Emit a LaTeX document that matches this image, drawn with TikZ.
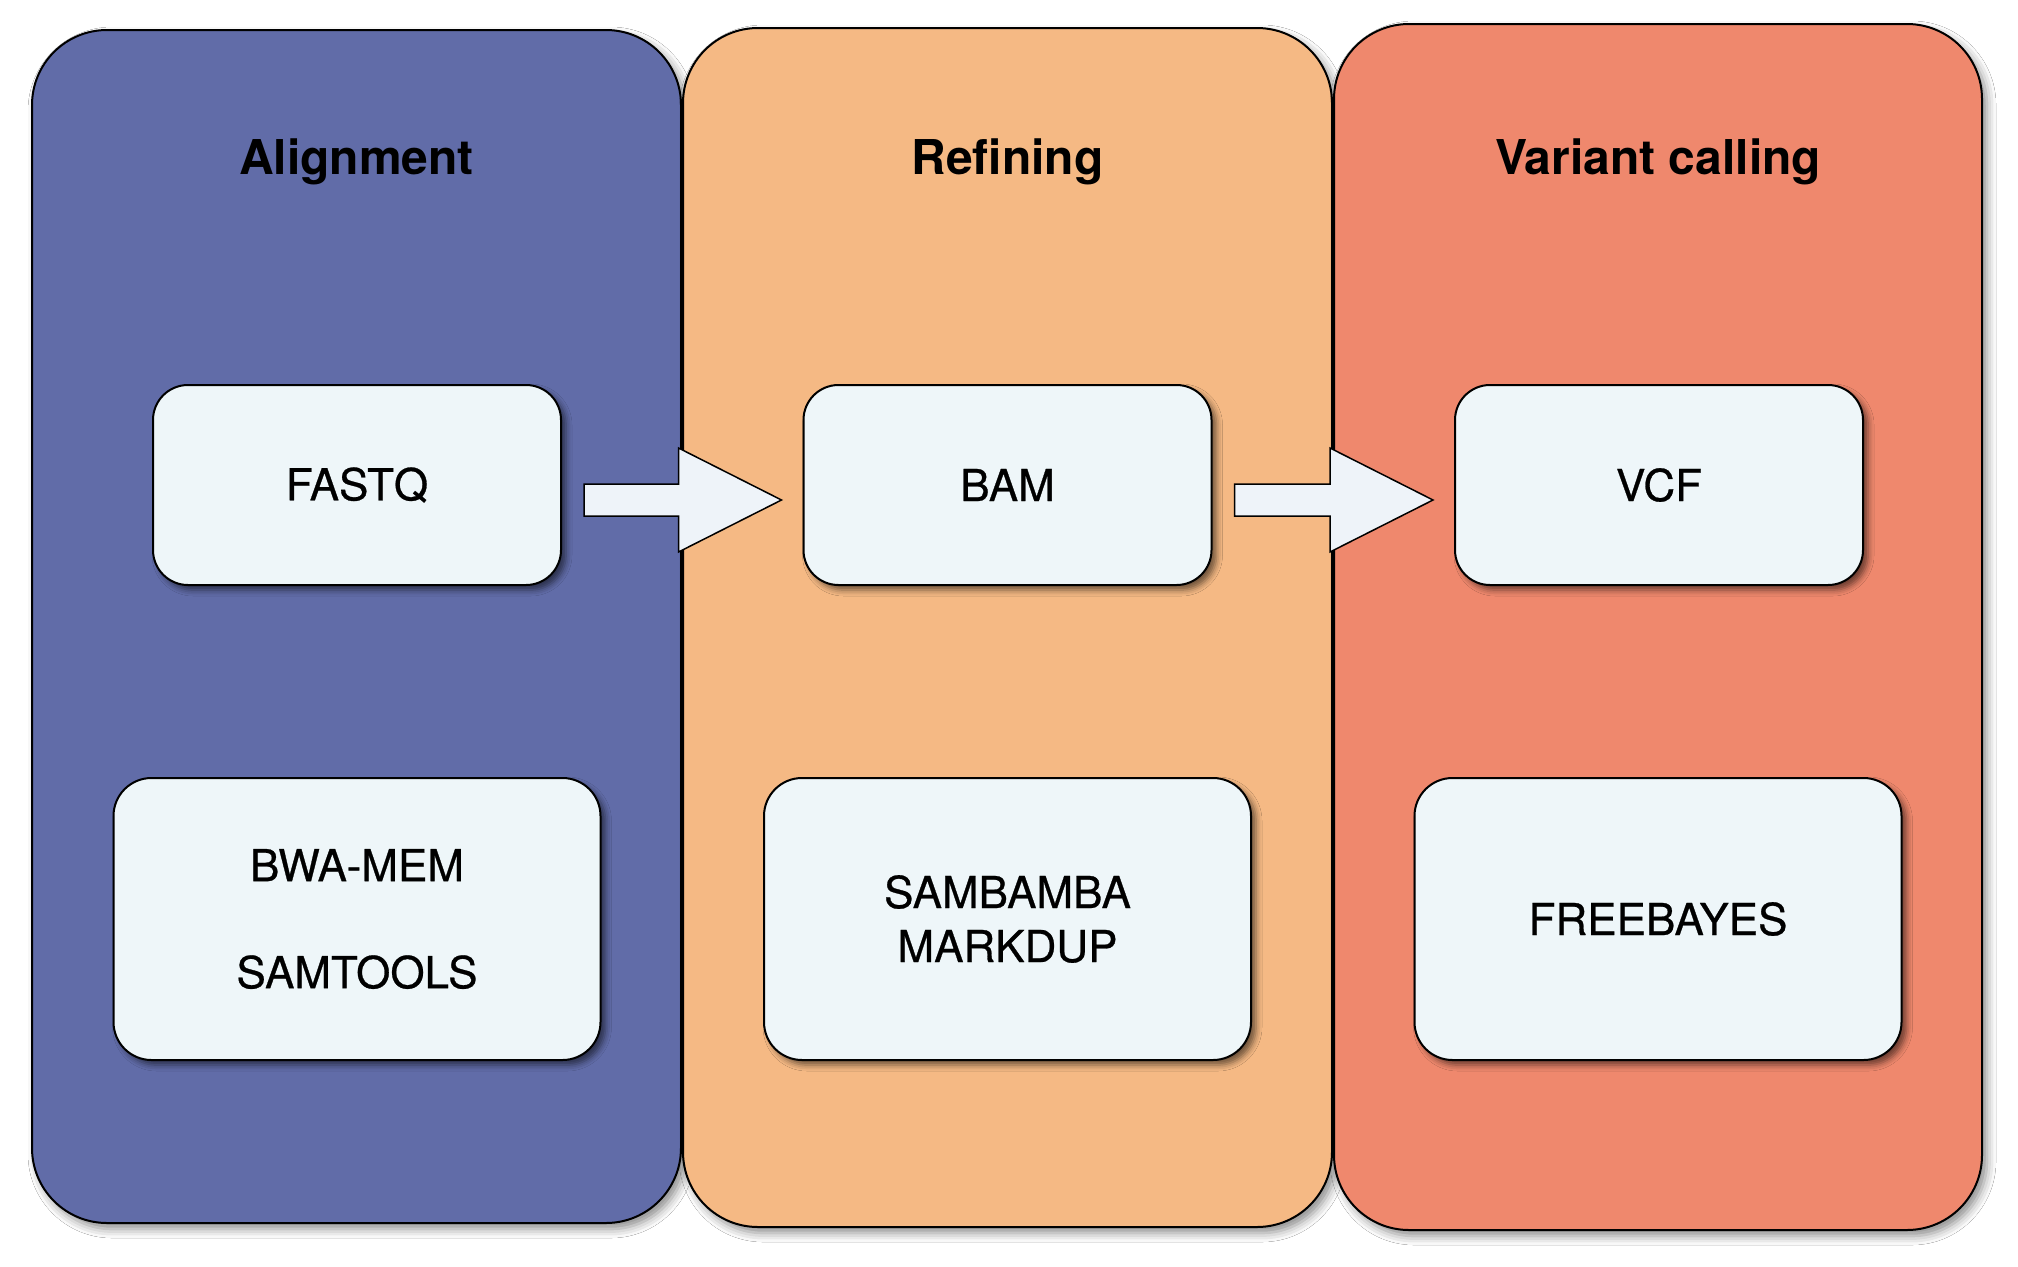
\documentclass[tikz,border=0pt]{standalone}
\usepackage{fontspec}
\setmainfont{TeX Gyre Heros}
\newfontfamily\boxfont[FakeBold=0.6]{TeX Gyre Heros}
\usetikzlibrary{calc,shadows.blur}
\definecolor{pblue}{RGB}{97,108,168}
\definecolor{porange}{RGB}{245,185,132}
\definecolor{pred}{RGB}{239,136,109}
\definecolor{boxfill}{RGB}{238,246,249}
\definecolor{arrfill}{RGB}{238,243,249}
\begin{document}
\begin{tikzpicture}[x=1pt,y=-1pt,
  panel/.style={draw=black, line width=2pt, rounded corners=75pt, inner sep=0pt,
    blur shadow={shadow xshift=5pt, shadow yshift=-6pt, shadow blur radius=9pt, shadow opacity=45}},
  title/.style={anchor=base, font=\fontsize{48}{56}\selectfont\bfseries},
  smallbox/.style={draw=black, line width=2pt, fill=boxfill, rounded corners=35pt,
    minimum width=408pt, minimum height=200pt, inner sep=0pt,
    font=\boxfont\fontsize{44}{54}\selectfont, align=center,
    blur shadow={shadow xshift=5pt, shadow yshift=-5pt, shadow blur radius=6pt, shadow opacity=55}},
  bigbox/.style={smallbox, rounded corners=38pt, minimum width=487pt, minimum height=282pt},
  bigarrow/.style={draw=black, line width=1.5pt, fill=arrfill, line join=miter}
]
\fill[white] (0,0) rectangle (2018,1266);
\useasboundingbox (0,0) rectangle (2018,1266);

\node[panel, fill=pblue, minimum width=649pt, minimum height=1193pt] (p1) at (356.5,626.5) {};
\node[panel, fill=porange, minimum width=649pt, minimum height=1199pt] (p2) at (1007.5,627.5) {};
\node[panel, fill=pred, minimum width=648pt, minimum height=1206pt] (p3) at (1658,627) {};

\node[title] (t1) at (356.5,174) {Alignment};
\node[title] (t2) at (1007.5,174) {Refining};
\node[title] (t3) at (1658,174) {Variant calling};

\node[smallbox] (fastq) at (357,485) {FASTQ};
\node[smallbox] (bam) at (1007.5,485) {BAM};
\node[smallbox] (vcf) at (1659,485) {VCF};

\node[bigbox] (bwa) at (357,919) {BWA-MEM\\[53pt]SAMTOOLS};
\node[bigbox] (samb) at (1007.5,919) {SAMBAMBA\\MARKDUP};
\node[bigbox] (free) at (1658,919) {FREEBAYES};

\coordinate (s1) at ($(fastq.east)+(22,15)$);
\coordinate (e1) at ($(bam.west)+(-21,15)$);
\coordinate (s2) at ($(bam.east)+(22,15)$);
\coordinate (e2) at ($(vcf.west)+(-21,15)$);

\draw[bigarrow] ($(s1)+(0,-16)$) -- ($(e1)+(-103,-16)$) -- ($(e1)+(-103,-52)$) -- (e1)
  -- ($(e1)+(-103,52)$) -- ($(e1)+(-103,16)$) -- ($(s1)+(0,16)$) -- cycle;
\draw[bigarrow] ($(s2)+(0,-16)$) -- ($(e2)+(-103,-16)$) -- ($(e2)+(-103,-52)$) -- (e2)
  -- ($(e2)+(-103,52)$) -- ($(e2)+(-103,16)$) -- ($(s2)+(0,16)$) -- cycle;
\end{tikzpicture}
\end{document}
